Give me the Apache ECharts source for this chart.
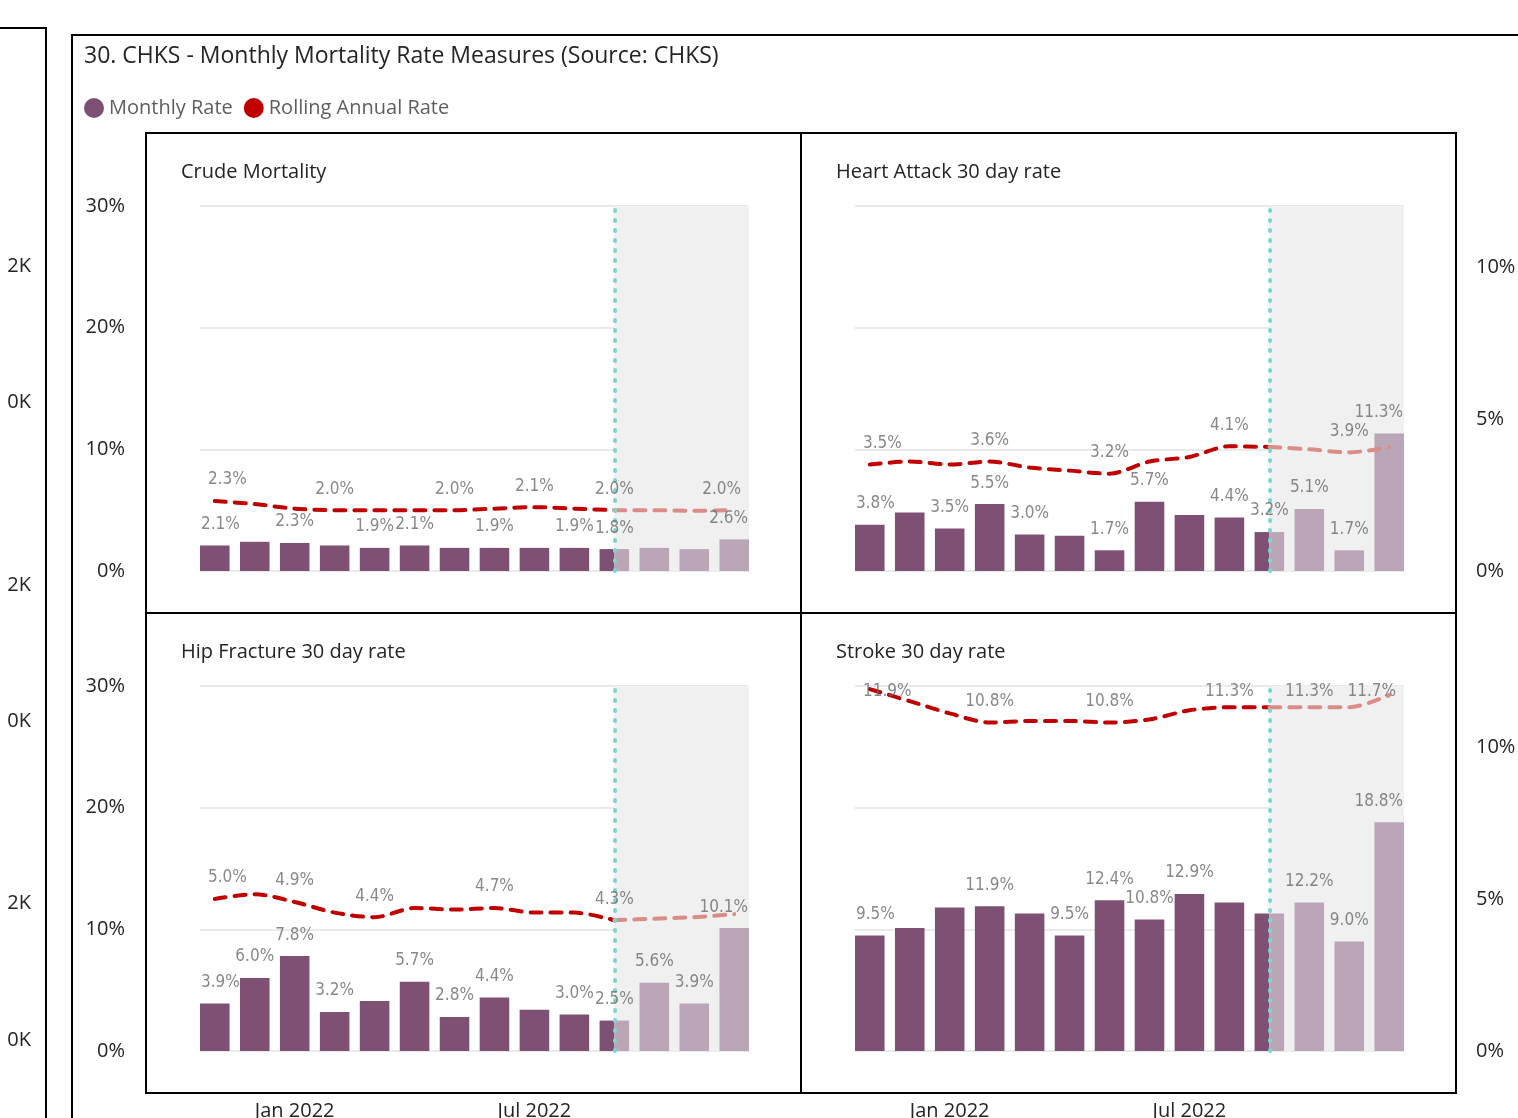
<!DOCTYPE html>
<html>
<head>
<meta charset="utf-8">
<script src="https://cdn.jsdelivr.net/npm/echarts@6/dist/echarts.min.js"></script>
<style>
html,body{margin:0;padding:0;background:#ffffff;}
#chart{width:1518px;height:1118px;}
</style>
</head>
<body>
<div id="chart"></div>
<script>
// ---------------- DATA ----------------
const months = ['Nov 2021','Dec 2021','Jan 2022','Feb 2022','Mar 2022','Apr 2022','May 2022',
                'Jun 2022','Jul 2022','Aug 2022','Sep 2022','Oct 2022','Nov 2022','Dec 2022'];
const xTickLabels = ['Jan 2022', 'Jul 2022'];
const shadeFromMonth = 'Sep 2022';

const chartTitle = '30. CHKS - Monthly Mortality Rate Measures (Source: CHKS)';
const legendNames = ['Monthly Rate', 'Rolling Annual Rate'];
const panelTitles = ['Crude Mortality', 'Heart Attack 30 day rate', 'Hip Fracture 30 day rate', 'Stroke 30 day rate'];

const leftAxisMax = 30, leftAxisStep = 10;   // Monthly Rate axis (%)
const rightAxisMax = 12, rightAxisStep = 5;  // Rolling Annual Rate axis (%)

const crudeMonthly   = [2.1, 2.4, 2.3, 2.1, 1.9, 2.1, 1.9, 1.9, 1.9, 1.9, 1.8, 1.9, 1.8, 2.6];
const crudeRolling   = [2.3, 2.2, 2.05, 2.0, 2.0, 2.0, 2.0, 2.05, 2.1, 2.05, 2.0, 2.0, 1.98, 2.0];
const crudeMonthlyLabelIdx = [0, 2, 4, 5, 7, 9, 10, 13];
const crudeRollingLabelIdx = [0, 3, 6, 8, 10, 13];

const heartMonthly   = [3.8, 4.8, 3.5, 5.5, 3.0, 2.9, 1.7, 5.7, 4.6, 4.4, 3.2, 5.1, 1.7, 11.3];
const heartRolling   = [3.5, 3.6, 3.5, 3.6, 3.4, 3.3, 3.2, 3.6, 3.75, 4.1, 4.08, 4.0, 3.9, 4.07];
const heartMonthlyLabelIdx = [0, 2, 3, 4, 6, 7, 9, 10, 11, 12, 13];
const heartRollingLabelIdx = [0, 3, 6, 9, 12];

const hipMonthly     = [3.9, 6.0, 7.8, 3.2, 4.1, 5.7, 2.8, 4.4, 3.4, 3.0, 2.5, 5.6, 3.9, 10.1];
const hipRolling     = [5.0, 5.15, 4.9, 4.55, 4.4, 4.7, 4.65, 4.7, 4.55, 4.55, 4.3, 4.35, 4.4, 4.5];
const hipMonthlyLabelIdx = [0, 1, 2, 3, 5, 6, 7, 9, 10, 11, 12, 13];
const hipRollingLabelIdx = [0, 2, 4, 7, 10];

const strokeMonthly  = [9.5, 10.1, 11.8, 11.9, 11.3, 9.5, 12.4, 10.8, 12.9, 12.2, 11.3, 12.2, 9.0, 18.8];
const strokeRolling  = [11.9, 11.5, 11.1, 10.8, 10.85, 10.85, 10.8, 10.9, 11.2, 11.3, 11.3, 11.3, 11.3, 11.7];
const strokeMonthlyLabelIdx = [0, 3, 5, 6, 7, 8, 11, 12, 13];
const strokeRollingLabelIdx = [0, 3, 6, 9, 11, 13];

const sideFragmentLabels = ['2K', '0K', '2K', '0K', '2K', '0K'];

// ---------------- STYLE / LAYOUT ----------------
const panels = [
  { title: panelTitles[0], monthly: crudeMonthly,  rolling: crudeRolling,  mIdx: crudeMonthlyLabelIdx,  rIdx: crudeRollingLabelIdx },
  { title: panelTitles[1], monthly: heartMonthly,  rolling: heartRolling,  mIdx: heartMonthlyLabelIdx,  rIdx: heartRollingLabelIdx },
  { title: panelTitles[2], monthly: hipMonthly,    rolling: hipRolling,    mIdx: hipMonthlyLabelIdx,    rIdx: hipRollingLabelIdx },
  { title: panelTitles[3], monthly: strokeMonthly, rolling: strokeRolling, mIdx: strokeMonthlyLabelIdx, rIdx: strokeRollingLabelIdx }
];
const gridPos = [
  { left: 200, top: 206 }, { left: 855, top: 206 },
  { left: 200, top: 686 }, { left: 855, top: 686 }
];
const PLOT_W = 549, PLOT_H = 365;
const BAR_UNITS = 0.74;               // bar width in category units
const X_MIN = -BAR_UNITS / 2, X_MAX = months.length - 1 + BAR_UNITS / 2;
const SPLIT = months.indexOf(shadeFromMonth);

const DARK = '#7E5073', LIGHT = '#BAA6B7';
const RED = '#C00000', LIGHT_RED = '#DA8C88';
const TEAL = '#7DD5CF', SHADE = '#F0F0F0', GRIDC = '#EAEAEA';
const UI_FONT = '"Open Sans", "Noto Sans", sans-serif';
const LBL_FONT = '"DejaVu Sans Condensed", "DejaVu Sans", sans-serif';
const TXT = '#252423';

const fmtPct = v => v.toFixed(1) + '%';

function clampLayout(g, pad) {
  return function (p) {
    const r = p.labelRect;
    let cx = r.x + r.width / 2;
    cx = Math.max(g.left + pad + r.width / 2, Math.min(g.left + PLOT_W - pad - r.width / 2, cx));
    const top = Math.max(r.y, g.top - 3);
    return { x: cx, y: top, align: 'center', verticalAlign: 'top' };
  };
}

function barRenderer(params, api) {
  const i = api.value(0), v = api.value(1);
  const top = api.coord([i, v]);
  const base = api.coord([i, 0]);
  const w = api.size([BAR_UNITS, 0])[0];
  const x0 = top[0] - w / 2, x1 = top[0] + w / 2;
  const sx = api.coord([SPLIT, 0])[0];
  const h = base[1] - top[1];
  const kids = [];
  if (x1 <= sx) {
    kids.push({ type: 'rect', shape: { x: x0, y: top[1], width: w, height: h }, style: { fill: DARK } });
  } else if (x0 >= sx) {
    kids.push({ type: 'rect', shape: { x: x0, y: top[1], width: w, height: h }, style: { fill: LIGHT } });
  } else {
    kids.push({ type: 'rect', shape: { x: x0, y: top[1], width: sx - x0, height: h }, style: { fill: DARK } });
    kids.push({ type: 'rect', shape: { x: sx, y: top[1], width: x1 - sx, height: h }, style: { fill: LIGHT } });
  }
  return { type: 'group', children: kids };
}

const grids = [], xAxes = [], yAxes = [], series = [];
panels.forEach((pn, p) => {
  const g = gridPos[p];
  const isLeftCol = p % 2 === 0, isBottom = p >= 2;
  grids.push({ left: g.left, top: g.top, width: PLOT_W, height: PLOT_H, containLabel: false, outerBoundsMode: 'none' });
  xAxes.push({
    type: 'value', gridIndex: p, min: X_MIN, max: X_MAX,
    axisLine: { show: false }, axisTick: { show: false }, splitLine: { show: false },
    axisLabel: {
      show: isBottom,
      customValues: xTickLabels.map(m => months.indexOf(m)),
      formatter: v => months[Math.round(v)] || '',
      margin: 50, fontSize: 20, color: TXT, fontFamily: UI_FONT
    }
  });
  yAxes.push({
    type: 'value', gridIndex: p, position: 'left', min: 0, max: leftAxisMax, interval: leftAxisStep,
    axisLine: { show: false }, axisTick: { show: false },
    splitLine: { show: true, lineStyle: { color: GRIDC, width: 2 } },
    axisLabel: { show: isLeftCol, formatter: '{value}%', margin: 75, fontSize: 20, color: TXT, fontFamily: UI_FONT }
  });
  yAxes.push({
    type: 'value', gridIndex: p, position: 'right', min: 0, max: rightAxisMax, interval: rightAxisStep,
    axisLine: { show: false }, axisTick: { show: false }, splitLine: { show: false },
    axisLabel: { show: !isLeftCol, showMaxLabel: false, formatter: '{value}%', margin: 72, fontSize: 20, color: TXT, fontFamily: UI_FONT }
  });
  const yL = 2 * p, yR = 2 * p + 1;
  series.push({
    name: legendNames[0], type: 'custom', xAxisIndex: p, yAxisIndex: yL,
    renderItem: barRenderer, encode: { x: 0, y: 1 },
    itemStyle: { color: DARK }, z: 2, silent: true,
    data: pn.monthly.map((v, i) => [i, v])
  });
  series.push({
    name: legendNames[1], type: 'line', xAxisIndex: p, yAxisIndex: yR,
    data: pn.rolling.map((v, i) => [i, v]).filter(d => d[0] <= SPLIT),
    symbol: 'none', smooth: 0.3, color: RED, z: 3, silent: true,
    lineStyle: { color: RED, width: 4, type: [11, 9], cap: 'round' }
  });
  series.push({
    name: legendNames[1], type: 'line', xAxisIndex: p, yAxisIndex: yR,
    data: pn.rolling.map((v, i) => [i, v]).filter(d => d[0] >= SPLIT),
    symbol: 'none', smooth: 0.3, color: LIGHT_RED, z: 3, silent: true,
    lineStyle: { color: LIGHT_RED, width: 4, type: [11, 9], cap: 'round' },
    markArea: { silent: true, itemStyle: { color: SHADE }, data: [[{ xAxis: SPLIT }, { xAxis: X_MAX }]] },
    markLine: {
      silent: true, symbol: 'none', label: { show: false },
      lineStyle: { color: TEAL, width: 4, type: [1, 9], cap: 'round' },
      data: [{ xAxis: SPLIT }]
    }
  });
  const lblStyle = { show: true, position: 'top', distance: 12, fontSize: 17, color: '#6A6A6A', fontFamily: LBL_FONT, formatter: q => fmtPct(q.value[1]) };
  series.push({
    name: '_mlabels', type: 'scatter', xAxisIndex: p, yAxisIndex: yL, symbolSize: 1,
    itemStyle: { color: 'rgba(0,0,0,0)' }, z: 6, silent: true,
    label: lblStyle, labelLayout: clampLayout(g, 1),
    data: pn.mIdx.map(i => [i, pn.monthly[i]])
  });
  series.push({
    name: '_rlabels', type: 'scatter', xAxisIndex: p, yAxisIndex: yR, symbolSize: 1,
    itemStyle: { color: 'rgba(0,0,0,0)' }, z: 6, silent: true,
    label: lblStyle, labelLayout: clampLayout(g, 8),
    data: pn.rIdx.map(i => [i, pn.rolling[i]])
  });
});

const graphics = [
  // neighbouring visual fragment on the left
  { type: 'polyline', shape: { points: [[0, 28], [46, 28], [46, 1120]] }, style: { stroke: '#000', lineWidth: 2, fill: null } },
  // main visual border
  { type: 'polyline', shape: { points: [[1520, 35], [72, 35], [72, 1120]] }, style: { stroke: '#000', lineWidth: 2, fill: null } },
  // small multiples frame
  { type: 'rect', shape: { x: 146, y: 133, width: 1310, height: 960 }, style: { stroke: '#000', lineWidth: 2, fill: null }, z: 10 },
  { type: 'line', shape: { x1: 801, y1: 133, x2: 801, y2: 1093 }, style: { stroke: '#000', lineWidth: 2 }, z: 10 },
  { type: 'line', shape: { x1: 146, y1: 613, x2: 1456, y2: 613 }, style: { stroke: '#000', lineWidth: 2 }, z: 10 },
  { type: 'text', x: 84, y: 56, style: { text: chartTitle, font: '23px ' + UI_FONT, fill: TXT, verticalAlign: 'middle' } }
];
const panelTitlePos = [[181, 172], [836, 172], [181, 652], [836, 652]];
panelTitles.forEach((t, k) => {
  graphics.push({ type: 'text', x: panelTitlePos[k][0], y: panelTitlePos[k][1], style: { text: t, font: '20px ' + UI_FONT, fill: TXT, verticalAlign: 'middle' } });
});
const fragY = [266, 402, 585, 721, 903, 1040];
sideFragmentLabels.forEach((t, k) => {
  graphics.push({ type: 'text', x: 31, y: fragY[k], style: { text: t, font: '20px ' + UI_FONT, fill: TXT, align: 'right', verticalAlign: 'middle' } });
});

const chart = echarts.init(document.getElementById('chart'), null, { renderer: 'canvas' });
chart.setOption({
  animation: false,
  backgroundColor: '#ffffff',
  legend: {
    data: legendNames, left: 84, top: 98, icon: 'circle', itemWidth: 20, itemHeight: 20, itemGap: 11,
    selectedMode: false, padding: 0,
    textStyle: { fontSize: 20, color: '#605E5C', fontFamily: UI_FONT }
  },
  grid: grids,
  xAxis: xAxes,
  yAxis: yAxes,
  series: series,
  graphic: graphics
});
</script>
</body>
</html>
